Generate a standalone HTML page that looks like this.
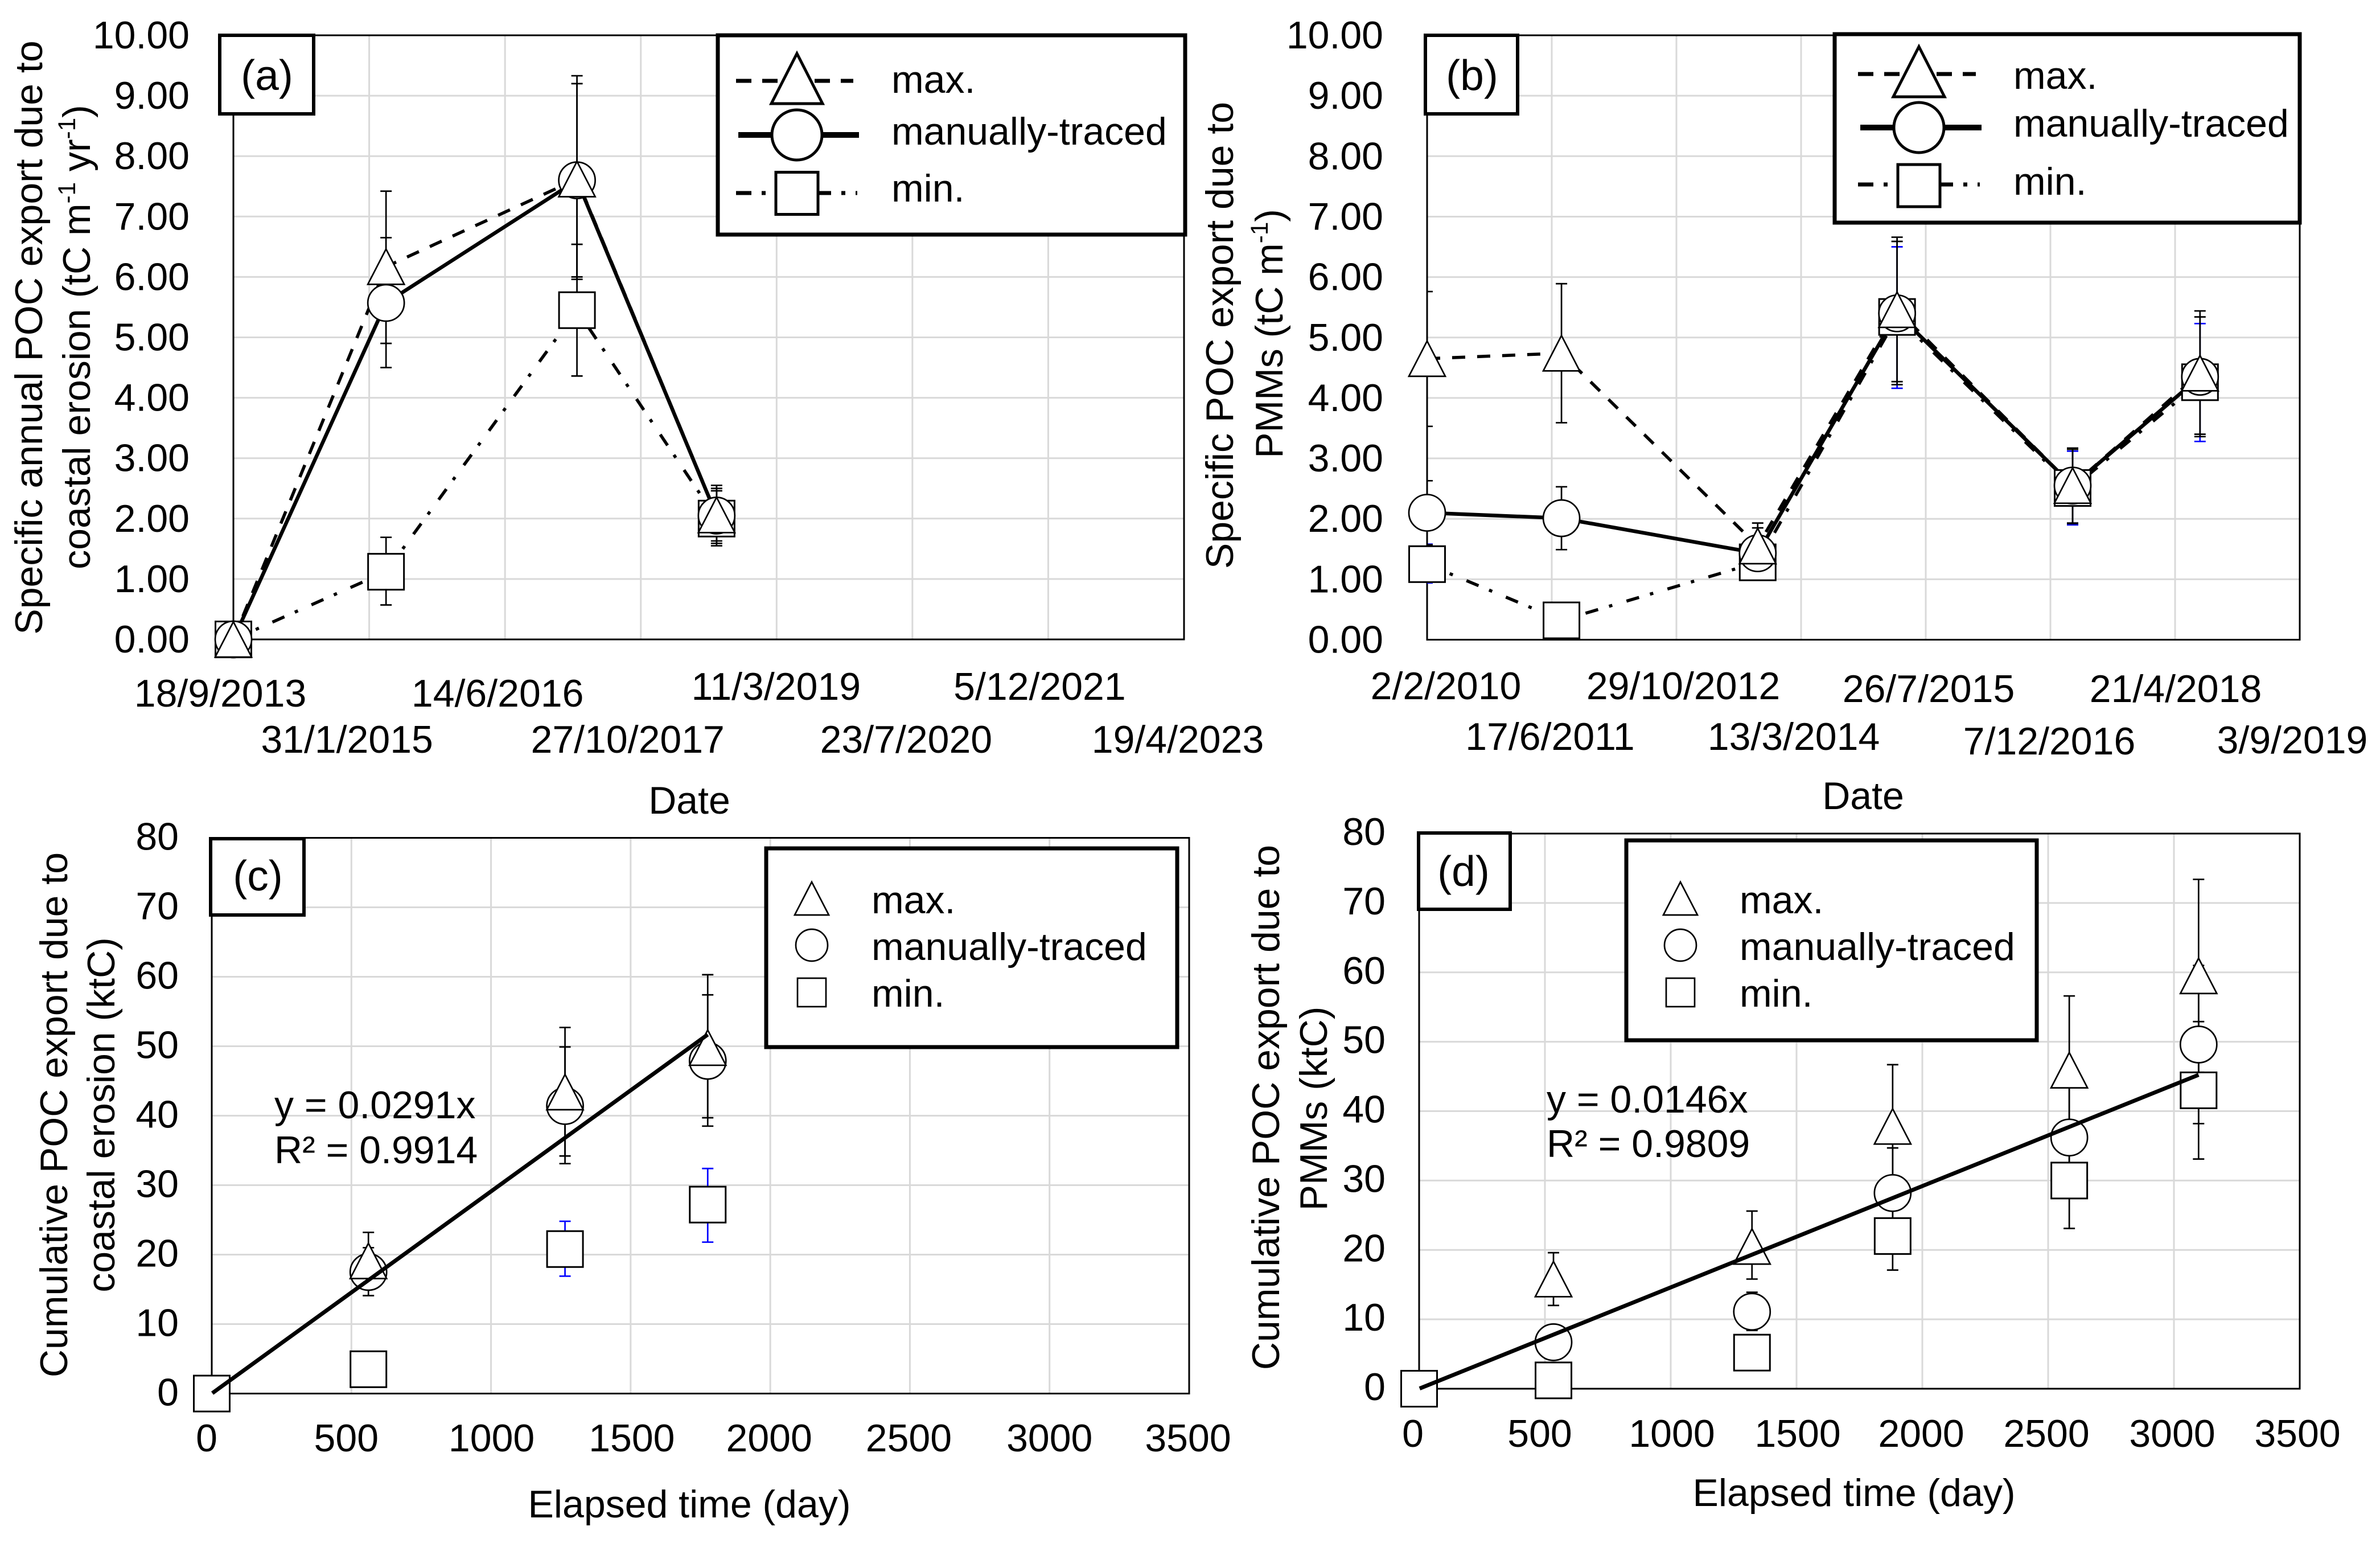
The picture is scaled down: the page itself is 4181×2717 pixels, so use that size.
<!DOCTYPE html>
<html>
<head>
<meta charset="utf-8">
<title>POC export charts</title>
<style>
html,body{margin:0;padding:0;background:#fff;}
svg{display:block;}
text{font-family:"Liberation Sans",Arial,sans-serif;fill:#000;}
</style>
</head>
<body>
<svg id="figure" xmlns="http://www.w3.org/2000/svg" width="4181" height="2717" viewBox="0 0 4181 2717">
<rect x="0" y="0" width="4181" height="2717" fill="#fff"/>
</svg>
<script>
/* ---------- Panel (a) data ---------- */
const aXTickDays = [0, 500, 1000, 1500, 2000, 2500, 3000, 3500];
const aXTickLabels = ["18/9/2013", "31/1/2015", "14/6/2016", "27/10/2017", "11/3/2019", "23/7/2020", "5/12/2021", "19/4/2023"];
const aYTicks = [0, 1, 2, 3, 4, 5, 6, 7, 8, 9, 10];
const aDays = [0, 562, 1265, 1779];
const aMax = [0, 6.17, 7.62, 2.06];
const aManual = [0, 5.57, 7.6, 2.05];
const aMin = [0, 1.12, 5.45, 2.0];
const aMaxHi = [null, 7.42, 9.33, 2.55];
const aMaxLo = [null, 4.9, 5.96, 1.63];
const aManualHi = [null, 6.65, 9.2, 2.5];
const aManualLo = [null, 4.5, 6.0, 1.59];
const aMinHi = [null, 1.69, 6.54, 2.46];
const aMinLo = [null, 0.57, 4.36, 1.55];

/* ---------- Panel (b) data ---------- */
const bXTickDays = [0, 500, 1000, 1500, 2000, 2500, 3000, 3500];
const bXTickLabels = ["2/2/2010", "17/6/2011", "29/10/2012", "13/3/2014", "26/7/2015", "7/12/2016", "21/4/2018", "3/9/2019"];
const bYTicks = [0, 1, 2, 3, 4, 5, 6, 7, 8, 9, 10];
const bDays = [0, 539, 1326, 1885, 2589, 3100];
const bMax = [4.65, 4.74, 1.55, 5.46, 2.55, 4.41];
const bManual = [2.1, 2.01, 1.43, 5.4, 2.55, 4.35];
const bMin = [1.25, 0.32, 1.28, 5.34, 2.51, 4.26];
const bMaxHi = [5.76, 5.89, 1.93, 6.66, 3.17, 5.44];
const bMaxLo = [3.53, 3.59, 1.2, 4.27, 1.93, 3.4];
const bManualHi = [2.63, 2.53, 1.85, 6.59, 3.15, 5.34];
const bManualLo = [1.57, 1.49, 1.1, 4.22, 1.92, 3.36];
const bMinHi = [1.58, 0.42, 1.6, 6.5, 3.12, 5.23];
const bMinLo = [0.94, 0.2, 1.0, 4.16, 1.9, 3.28];

/* ---------- Panel (c) data ---------- */
const cXTicks = [0, 500, 1000, 1500, 2000, 2500, 3000, 3500];
const cYTicks = [0, 10, 20, 30, 40, 50, 60, 70, 80];
const cDays = [0, 561, 1265, 1776];
const cMax = [null, 19.1, 43.4, 49.8];
const cManual = [null, 17.5, 41.4, 47.9];
const cMin = [0, 3.5, 20.8, 27.2];
const cMaxHi = [null, 23.2, 52.7, 60.3];
const cMaxLo = [null, 15, 34.2, 39.7];
const cManualHi = [null, 21, 49.9, 57.4];
const cManualLo = [null, 14.1, 33.1, 38.5];
const cMinHi = [null, null, 24.8, 32.4];
const cMinLo = [null, null, 16.9, 21.8];
const cSlope = 0.0291;

/* ---------- Panel (d) data ---------- */
const dXTicks = [0, 500, 1000, 1500, 2000, 2500, 3000, 3500];
const dYTicks = [0, 10, 20, 30, 40, 50, 60, 70, 80];
const dDays = [0, 534, 1323, 1882, 2584, 3098];
const dMax = [null, 15.8, 20.5, 37.8, 45.9, 59.5];
const dManual = [null, 6.7, 11.1, 28.2, 36.2, 49.6];
const dMin = [0, 1.2, 5.2, 22, 30, 43];
const dMaxHi = [null, 19.6, 25.6, 46.7, 56.6, 73.4];
const dMaxLo = [null, 12, 15.8, 28.9, 35.2, 45.6];
const dManualHi = [null, 8.2, 13.9, 34.7, 44.2, 61];
const dManualLo = [null, 5.2, 8.4, 21.7, 28.2, 38.2];
const dMinHi = [null, 1.5, 6.5, 26.9, 36.9, 52.9];
const dMinLo = [null, 0.9, 3.9, 17.1, 23.1, 33.1];
const dSlope = 0.0146;

/* ---------- helpers ---------- */
const NS = 'http://www.w3.org/2000/svg';
const root = document.getElementById('figure');
const FS = 68;

function svgEl(tag, parent, name, attrs) {
  const el = document.createElementNS(NS, tag);
  for (const k in attrs) el.setAttribute(k, attrs[k]);
  
  
  parent.appendChild(el);
  return el;
}

function addText(parent, name, segs, x, y, o) {
  const rot = o.rot || 0;
  const el = svgEl('text', parent, name, {
    'font-size': o.fs || FS,
    'text-anchor': o.anchor || 'middle',
    transform: 'translate(' + x + ' ' + y + ') rotate(' + rot + ')'
  });
  const list = Array.isArray(segs) ? segs : [segs];
  let pending = 0;
  list.forEach(function (s) {
    const sup = s.charAt(0) === '^';
    const t = document.createElementNS(NS, 'tspan');
    t.textContent = sup ? s.slice(1) : s;
    const target = sup ? -26 : 0;
    if (target !== pending) t.setAttribute('dy', target - pending);
    pending = target;
    if (sup) t.setAttribute('font-size', (o.fs || FS) * 0.62);
    el.appendChild(t);
  });
  return el;
}

function markerTri(parent, name, x, y, w, h, sw) {
  return svgEl('polygon', parent, name, {
    points: x + ',' + (y - h / 2) + ' ' + (x + w / 2) + ',' + (y + h / 2) + ' ' + (x - w / 2) + ',' + (y + h / 2),
    fill: '#fff', stroke: '#000', 'stroke-width': sw
  });
}
function markerCirc(parent, name, x, y, r, sw) {
  return svgEl('ellipse', parent, name, { cx: x, cy: y, rx: r, ry: r, fill: '#fff', stroke: '#000', 'stroke-width': sw });
}
function markerSq(parent, name, x, y, w, sw) {
  return svgEl('rect', parent, name, { x: x - w / 2, y: y - w / 2, width: w, height: w, fill: '#fff', stroke: '#000', 'stroke-width': sw });
}

const STYLE = {
  max: { dash: '23 21', w: 5.5 },
  manual: { dash: 'none', w: 6.5 },
  min: { dash: '23 20 6 26', w: 5.5 }
};

function drawPanel(p) {
  const g = svgEl('g', root, 'panel-' + p.id, {});
  const xMax = p.xTicks[p.xTicks.length - 1];
  const yMax = p.yTicks[p.yTicks.length - 1];
  const L = p.box[0], T = p.box[1], R = p.box[2], B = p.box[3];
  const X = function (d) { return L + d * (R - L) / xMax; };
  const Y = function (v) { return B - v * (B - T) / yMax; };

  /* gridlines */
  const grid = svgEl('g', g, 'gridlines', {});
  p.xTicks.forEach(function (t, i) {
    if (i === 0 || i === p.xTicks.length - 1) return;
    svgEl('line', grid, 'x-gridline', { x1: X(t), x2: X(t), y1: T, y2: B, stroke: '#d9d9d9', 'stroke-width': 3 });
  });
  p.yTicks.forEach(function (t, i) {
    if (i === 0 || i === p.yTicks.length - 1) return;
    svgEl('line', grid, 'y-gridline', { x1: L, x2: R, y1: Y(t), y2: Y(t), stroke: '#d9d9d9', 'stroke-width': 3 });
  });
  svgEl('rect', g, 'plot-border', { x: L, y: T, width: R - L, height: B - T, fill: 'none', stroke: '#000', 'stroke-width': 3 });

  /* tick labels */
  p.yTicks.forEach(function (t) {
    addText(g, 'y-tick-label', t.toFixed(p.yDec), p.yLabelX, Y(t) + p.yLabelDy, { anchor: 'end' });
  });
  p.xLabels.forEach(function (lab, i) {
    addText(g, 'x-tick-label', lab, X(p.xTicks[i]) + p.xNudge[i], p.xBase[i], {});
  });

  /* titles */
  addText(g, 'x-axis-title', p.xTitle[0], p.xTitle[1], p.xTitle[2], {});
  p.yTitle.forEach(function (l) {
    addText(g, 'y-axis-title', l[0], l[1], l[2], { rot: -90 });
  });

  /* clip */
  const cp = svgEl('clipPath', g, 'plot-clip', { id: 'clip-' + p.id });
  svgEl('rect', cp, 'plot-clip-rect', { x: L, y: 0, width: R - L, height: 2717 });

  /* error bars */
  const errs = svgEl('g', g, 'error-bars', { 'clip-path': 'url(#clip-' + p.id + ')' });
  [['min', p.minErr, p.minErrColor], ['manual', p.manualErr, '#000'], ['max', p.maxErr, '#000']].forEach(function (s) {
    s[1][0].forEach(function (hi, i) {
      const lo = s[1][1][i];
      if (hi === null || lo === null) return;
      const x = X(p.days[i]);
      svgEl('line', errs, s[0] + '-error-bar', { x1: x, x2: x, y1: Y(hi), y2: Y(lo), stroke: s[2], 'stroke-width': 2.7 });
      svgEl('line', errs, s[0] + '-error-cap-high', { x1: x - 10, x2: x + 10, y1: Y(hi), y2: Y(hi), stroke: s[2], 'stroke-width': 2.7 });
      svgEl('line', errs, s[0] + '-error-cap-low', { x1: x - 10, x2: x + 10, y1: Y(lo), y2: Y(lo), stroke: s[2], 'stroke-width': 2.7 });
    });
  });

  /* series */
  const seriesOrder = [['min', p.min], ['manual', p.manual], ['max', p.max]];
  if (p.lines) {
    seriesOrder.slice().reverse().forEach(function (s) {
      const pts = s[1].map(function (v, i) { return v === null ? null : X(p.days[i]) + ',' + Y(v); }).filter(Boolean).join(' ');
      const st = STYLE[s[0]];
      svgEl('polyline', g, s[0] + '-line', { points: pts, fill: 'none', stroke: '#000', 'stroke-width': st.w, 'stroke-dasharray': st.dash, 'stroke-linejoin': 'round' });
    });
  }
  p.min.forEach(function (v, i) { if (v !== null) markerSq(g, 'min-marker', X(p.days[i]), Y(v), 63, 3); });
  p.manual.forEach(function (v, i) { if (v !== null) markerCirc(g, 'manual-marker', X(p.days[i]), Y(v), 32, 2.7); });
  p.max.forEach(function (v, i) { if (v !== null) markerTri(g, 'max-marker', X(p.days[i]), Y(v), 64, 62, 2.7); });

  /* trend */
  if (p.slope) {
    const last = p.days[p.days.length - 1];
    svgEl('line', g, 'trendline', { x1: X(2), y1: Y(2 * p.slope), x2: X(last), y2: Y(last * p.slope), stroke: '#000', 'stroke-width': 7 });
    addText(g, 'trend-equation', p.eq[0], p.eq[2], p.eq[3], { anchor: 'start' });
    addText(g, 'trend-r-squared', p.eq[1], p.eq[2], p.eq[4], { anchor: 'start' });
  }

  /* panel label */
  const lb = p.label;
  svgEl('rect', g, 'panel-label-box', { x: lb[0], y: lb[1], width: lb[2] - lb[0], height: lb[3] - lb[1], fill: '#fff', stroke: '#000', 'stroke-width': 6 });
  addText(g, 'panel-label', lb[4], lb[5], lb[6], { fs: 75 });

  /* legend */
  const lg = p.legend;
  const lgG = svgEl('g', g, 'legend', {});
  svgEl('rect', lgG, 'legend-box', { x: lg.box[0], y: lg.box[1], width: lg.box[2] - lg.box[0], height: lg.box[3] - lg.box[1], fill: '#fff', stroke: '#000', 'stroke-width': 7 });
  if (lg.lineX) {
    svgEl('line', lgG, 'legend-max-line', { x1: lg.lineX[0], x2: lg.lineX[1], y1: lg.lineY[0], y2: lg.lineY[0], stroke: '#000', 'stroke-width': 7, 'stroke-dasharray': '27 19' });
    svgEl('line', lgG, 'legend-manual-line', { x1: lg.lineX[0] + 4, x2: lg.lineX[1] + 10, y1: lg.lineY[1], y2: lg.lineY[1], stroke: '#000', 'stroke-width': 10 });
    svgEl('line', lgG, 'legend-min-line', { x1: lg.lineX[0], x2: lg.lineX[1] + 7, y1: lg.lineY[2], y2: lg.lineY[2], stroke: '#000', 'stroke-width': 7, 'stroke-dasharray': '27 18 7 18' });
  }
  markerTri(lgG, 'legend-max-marker', lg.mx, lg.my[0], lg.tri, lg.tri - 2, lg.msw);
  markerCirc(lgG, 'legend-manual-marker', lg.mx, lg.my[1], lg.circ, lg.msw);
  markerSq(lgG, 'legend-min-marker', lg.mx, lg.my[2], lg.sq, lg.msw);
  addText(lgG, 'legend-max-label', 'max.', lg.tx, lg.ty[0], { anchor: 'start' });
  addText(lgG, 'legend-manual-label', 'manually-traced', lg.tx, lg.ty[1], { anchor: 'start' });
  addText(lgG, 'legend-min-label', 'min.', lg.tx, lg.ty[2], { anchor: 'start' });
}

drawPanel({
  id: 'a', box: [410, 62, 2080, 1123], days: aDays, xTicks: aXTickDays, yTicks: aYTicks, yDec: 2,
  max: aMax, manual: aManual, min: aMin, lines: true,
  maxErr: [aMaxHi, aMaxLo], manualErr: [aManualHi, aManualLo], minErr: [aMinHi, aMinLo], minErrColor: '#000',
  yLabelX: 333, yLabelDy: 23,
  xLabels: aXTickLabels,
  xNudge: [-23, -39, -13, -23, -1, -11, -15, -11],
  xBase: [1241, 1322, 1241, 1322, 1229, 1322, 1229, 1322],
  xTitle: ['Date', 1211, 1429],
  yTitle: [['Specific annual POC export due to', 74, 593], [['coastal erosion (tC m', '^-1', ' yr', '^-1', ')'], 158, 592]],
  label: [386, 62, 551, 200, '(a)', 469, 158],
  legend: { box: [1261, 62, 2082, 412], lineX: [1293, 1499], lineY: [142, 237, 339], mx: 1400, my: [138, 237, 339.5], tri: 90, circ: 44, sq: 74, msw: 5, tx: 1566, ty: [163, 254, 354] }
});

drawPanel({
  id: 'b', box: [2507, 62, 4040, 1123.5], days: bDays, xTicks: bXTickDays, yTicks: bYTicks, yDec: 2,
  max: bMax, manual: bManual, min: bMin, lines: true,
  maxErr: [bMaxHi, bMaxLo], manualErr: [bManualHi, bManualLo], minErr: [bMinHi, bMinLo], minErrColor: '#0000ff',
  yLabelX: 2430, yLabelDy: 23,
  xLabels: bXTickLabels,
  xNudge: [33, -3, 12, -13, 5, -2, 1, -13],
  xBase: [1228, 1317, 1228, 1317, 1233, 1325, 1233, 1323],
  xTitle: ['Date', 3273, 1421],
  yTitle: [['Specific POC export due to', 2166, 589], [['PMMs (tC m', '^-1', ')'], 2253, 586]],
  label: [2504, 62, 2666, 200, '(b)', 2586, 158],
  legend: { box: [3223, 60, 4040, 391], lineX: [3264, 3471], lineY: [130, 224, 324], mx: 3371, my: [126, 224, 326], tri: 90, circ: 44, sq: 74, msw: 5, tx: 3537, ty: [156, 240, 342] }
});

drawPanel({
  id: 'c', box: [372, 1471.5, 2089, 2447.5], days: cDays, xTicks: cXTicks, yTicks: cYTicks, yDec: 0,
  max: cMax, manual: cManual, min: cMin, lines: false, slope: cSlope,
  eq: ['y = 0.0291x', 'R\u00B2 = 0.9914', 482, 1964, 2043],
  maxErr: [cMaxHi, cMaxLo], manualErr: [cManualHi, cManualLo], minErr: [cMinHi, cMinLo], minErrColor: '#0000ff',
  yLabelX: 314, yLabelDy: 21,
  xLabels: cXTicks.map(String),
  xNudge: [-9, -9, 1, 2, -2, -2, 0, -2],
  xBase: [2549, 2549, 2549, 2549, 2549, 2549, 2549, 2549],
  xTitle: ['Elapsed time (day)', 1211, 2665],
  yTitle: [['Cumulative POC export due to', 118, 1958], ['coastal erosion (ktC)', 201, 1958]],
  label: [370, 1473, 534, 1607, '(c)', 453, 1564],
  legend: { box: [1346, 1490, 2068, 1839], mx: 1426, my: [1578, 1660, 1743], tri: 60, circ: 28, sq: 50, msw: 2.7, tx: 1531, ty: [1604, 1686, 1768] }
});

drawPanel({
  id: 'd', box: [2493, 1464, 4040, 2439], days: dDays, xTicks: dXTicks, yTicks: dYTicks, yDec: 0,
  max: dMax, manual: dManual, min: dMin, lines: false, slope: dSlope,
  eq: ['y = 0.0146x', 'R\u00B2 = 0.9809', 2717, 1954, 2032],
  maxErr: [dMaxHi, dMaxLo], manualErr: [dManualHi, dManualLo], minErr: [dMinHi, dMinLo], minErrColor: '#000',
  yLabelX: 2434, yLabelDy: 20,
  xLabels: dXTicks.map(String),
  xNudge: [-11, -9, 2, 2, -2, -3, -3, -4],
  xBase: [2541, 2541, 2541, 2541, 2541, 2541, 2541, 2541],
  xTitle: ['Elapsed time (day)', 3257, 2645],
  yTitle: [['Cumulative POC export due to', 2247, 1945], ['PMMs (ktC)', 2331, 1947]],
  label: [2492, 1463, 2653, 1597, '(d)', 2571, 1556],
  legend: { box: [2857, 1476, 3578, 1827], mx: 2952, my: [1578, 1660, 1743], tri: 60, circ: 28, sq: 50, msw: 2.7, tx: 3056, ty: [1604, 1686, 1768] }
});
</script>
</body>
</html>
